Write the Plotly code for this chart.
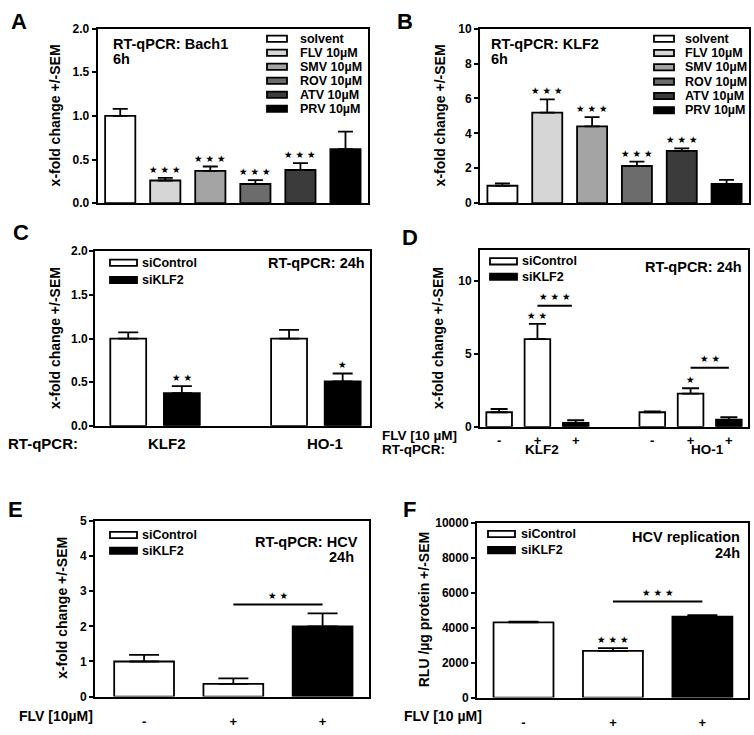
import plotly.graph_objects as go

W, H = 754, 735

# ---------------- data ----------------
A_labels = ["solvent", "FLV 10µM", "SMV 10µM", "ROV 10µM", "ATV 10µM", "PRV 10µM"]
A_values = [1.00, 0.26, 0.37, 0.22, 0.38, 0.62]
A_errors = [0.08, 0.03, 0.05, 0.045, 0.08, 0.20]
A_stars = ["", "★★★", "★★★", "★★★", "★★★", ""]

B_labels = ["solvent", "FLV 10µM", "SMV 10µM", "ROV 10µM", "ATV 10µM", "PRV 10µM"]
B_values = [1.00, 5.19, 4.40, 2.13, 3.00, 1.10]
B_errors = [0.13, 0.75, 0.53, 0.25, 0.14, 0.23]
B_stars = ["", "★★★", "★★★", "★★★", "★★★", ""]

treat_colors = ["#ffffff", "#d6d6d6", "#a4a4a4", "#6c6c6c", "#3b3b3b", "#000000"]

si_labels = ["siControl", "siKLF2"]
si_colors = {"siControl": "#ffffff", "siKLF2": "#000000"}

C_genes = ["KLF2", "HO-1"]
C_gene_of_bar = [0, 0, 1, 1]
C_slot = [0, 1, 0, 1]
C_groups = ["siControl", "siKLF2", "siControl", "siKLF2"]
C_values = [1.00, 0.375, 1.00, 0.51]
C_errors = [0.07, 0.08, 0.10, 0.09]
C_stars = ["", "★★", "", "★"]
C_yticks = [0, 0.5, 1.0, 1.5, 2.0]

D_genes = ["KLF2", "HO-1"]
D_gene_of_bar = [0, 0, 0, 1, 1, 1]
D_slot = [0, 1, 2, 0, 1, 2]
D_groups = ["siControl", "siControl", "siKLF2", "siControl", "siControl", "siKLF2"]
D_flv = ["-", "+", "+", "-", "+", "+"]
D_values = [1.00, 6.00, 0.27, 1.00, 2.28, 0.49]
D_errors = [0.22, 1.05, 0.18, 0.05, 0.36, 0.18]
D_stars = ["", "★★", "", "", "★", ""]
D_brackets = [(1, 2, 8.28, "★★★"), (4, 5, 4.05, "★★")]

E_groups = ["siControl", "siControl", "siKLF2"]
E_flv = ["-", "+", "+"]
E_values = [1.00, 0.36, 2.00]
E_errors = [0.19, 0.16, 0.37]
E_stars = ["", "", ""]
E_brackets = [(1, 2, 2.62, "★★")]

F_groups = ["siControl", "siControl", "siKLF2"]
F_flv = ["-", "+", "+"]
F_values = [4310, 2680, 4640]
F_errors = [40, 150, 75]
F_stars = ["", "★★★", ""]
F_brackets = [(1, 2, 5500, "★★★")]

# ---------------- helpers ----------------
FONT = "Liberation Sans, Arial, Helvetica, sans-serif"
STARFONT = "DejaVu Sans"
STARSIZE = 9.5

fig = go.Figure()
layout = {}
annotations = []
shapes = []


def px(x, y):
    return x / W, 1 - y / H


def sfx(i):
    return "" if i == 1 else str(i)


def add_axes(i, xd, yd, xr, yr, ytickvals, yfmt, xtickvals=None, xticktext=None, standoff=2,
             xsize=13, ylabels=True):
    s = sfx(i)
    xa = dict(domain=[xd[0] / W, xd[1] / W], range=xr, anchor="y" + s,
              showline=True, mirror=True, linecolor="black", linewidth=2,
              showgrid=False, zeroline=False, ticks="", fixedrange=True)
    if xtickvals is not None:
        xa.update(tickmode="array", tickvals=xtickvals, ticktext=xticktext, showticklabels=True,
                  tickfont=dict(family=FONT, size=xsize, color="black", weight="bold"),
                  ticklabelstandoff=standoff)
    else:
        xa.update(showticklabels=False)
    ya = dict(domain=[1 - yd[1] / H, 1 - yd[0] / H], range=yr, anchor="x" + s,
              showline=True, mirror=True, linecolor="black", linewidth=2,
              showgrid=False, zeroline=False, ticks="outside", ticklen=4, tickwidth=2,
              tickcolor="black", tickmode="array", tickvals=ytickvals,
              ticktext=[format(v, yfmt) for v in ytickvals], showticklabels=ylabels,
              tickfont=dict(family=FONT, size=12, color="black", weight="bold"), fixedrange=True)
    layout["xaxis" + s] = xa
    layout["yaxis" + s] = ya
    if not ylabels:
        # tick labels written next to the axis, at the axis' own tick values
        for v in ytickvals:
            annotations.append(dict(x=(xd[0] - 6) / W, y=v, xref="paper", yref="y" + s,
                                    text="<b>" + format(v, yfmt) + "</b>", showarrow=False,
                                    xanchor="right", yanchor="middle", borderpad=0,
                                    font=dict(family=FONT, size=12, color="black")))


def spaced(st):
    return " ".join(list(st))


def add_bars(i, xs, vals, errs, colors, cap, stars):
    s = sfx(i)
    fig.add_trace(go.Bar(
        x=xs, y=vals, width=0.67, xaxis="x" + s, yaxis="y" + s, showlegend=False,
        marker=dict(color=colors, line=dict(color="black", width=1.8)),
        error_y=dict(type="data", array=errs, arrayminus=[0] * len(errs), symmetric=False,
                     color="black", thickness=1.8, width=cap),
    ))
    for x, v, e, st in zip(xs, vals, errs, stars):
        if st:
            annotations.append(dict(x=x, y=v + e, xref="x" + s, yref="y" + s, text=spaced(st),
                                    showarrow=False, yanchor="bottom", yshift=1,
                                    font=dict(family=STARFONT, size=STARSIZE, color="black")))


def add_brackets(i, xs, brackets, x2trim=0.0):
    s = sfx(i)
    for a, b, y, st in brackets:
        shapes.append(dict(type="line", xref="x" + s, yref="y" + s, x0=xs[a], x1=xs[b] - x2trim,
                           y0=y, y1=y, line=dict(color="black", width=2)))
        annotations.append(dict(x=(xs[a] + xs[b] - x2trim) / 2, y=y, xref="x" + s, yref="y" + s,
                                text=spaced(st), showarrow=False, yanchor="bottom", yshift=2,
                                font=dict(family=STARFONT, size=STARSIZE, color="black")))


def text(x, y, t, size=13, xanchor="left", angle=0):
    xx, yy = px(x, y)
    annotations.append(dict(x=xx, y=yy, xref="paper", yref="paper", text="<b>" + t + "</b>",
                            showarrow=False, xanchor=xanchor, yanchor="middle", textangle=angle,
                            font=dict(family=FONT, size=size, color="black")))


def legend(x0, rows_y, labels, colors, sw_w, tx, size=12.5):
    for y, lab, col in zip(rows_y, labels, colors):
        a = px(x0, y - 3.2)
        b = px(x0 + sw_w, y + 3.2)
        shapes.append(dict(type="rect", xref="paper", yref="paper", x0=a[0], x1=b[0], y0=b[1], y1=a[1],
                           fillcolor=col, line=dict(color="black", width=1.8)))
        text(tx, y, lab, size=size)


# ---------------- Panel A ----------------
xA = list(range(len(A_values)))
add_axes(1, (97.7, 368), (22, 200), [-0.5, 5.5], [0, 2], [0, 0.5, 1.0, 1.5, 2.0], ".1f")
add_bars(1, xA, A_values, A_errors, treat_colors, 7.5, A_stars)
legend(267, [32.3 + 14.3 * k for k in range(6)], A_labels, treat_colors, 20, 298)
text(111, 38, "RT-qPCR: Bach1", 14.5)
text(111, 53, "6h", 14.5)
text(54.5, 111, "x-fold change +/-SEM", 14, "center", -90)
text(9, 15, "A", 22)

# ---------------- Panel B ----------------
xB = list(range(len(B_values)))
add_axes(2, (480, 749), (22, 200), [-0.5, 5.5], [0, 10], [0, 2, 4, 6, 8, 10], "d")
add_bars(2, xB, B_values, B_errors, treat_colors, 7.5, B_stars)
legend(654, [32.3 + 14.6 * k for k in range(6)], B_labels, treat_colors, 20, 683)
text(489, 38, "RT-qPCR: KLF2", 14.5)
text(489, 53, "6h", 14.5)
text(439.5, 111, "x-fold change +/-SEM", 14, "center", -90)
text(395, 15, "B", 22)

# ---------------- Panel C ----------------
xC = [g * 3 + j for g, j in zip(C_gene_of_bar, C_slot)]
add_axes(3, (95, 370), (249, 427), [-0.62, 4.51], [0, 2], C_yticks, ".1f", ylabels=False)
add_bars(3, xC, C_values, C_errors, [si_colors[g] for g in C_groups], 10, C_stars)
legend(110, [260.7, 278.3], si_labels, [si_colors[g] for g in si_labels], 27, 140)
text(367, 260.7, "RT-qPCR: 24h", 14.5, "right")
text(54.5, 338, "x-fold change +/-SEM", 14, "center", -90)
text(6, 445, "RT-qPCR:", 15)
text(166.7, 445, C_genes[0], 15, "center")
text(324.7, 445, C_genes[1], 15, "center")
text(11, 230, "C", 22)

# ---------------- Panel D ----------------
xD = [g * 4 + j for g, j in zip(D_gene_of_bar, D_slot)]
add_axes(4, (480, 748), (248, 428), [-0.5, 6.5], [0, 12.08], [0, 5, 10], "d",
         xtickvals=xD, xticktext=D_flv, standoff=1, xsize=13)
add_bars(4, xD, D_values, D_errors, [si_colors[g] for g in D_groups], 8.5, D_stars)
add_brackets(4, xD, D_brackets[:1], x2trim=0.1)
add_brackets(4, xD, D_brackets[1:])
legend(490, [259.3, 275], si_labels, [si_colors[g] for g in si_labels], 27, 520)
text(744, 265, "RT-qPCR: 24h", 14.5, "right")
text(437.5, 338, "x-fold change +/-SEM", 14, "center", -90)
text(380, 437, "FLV [10 µM]", 13.5)
text(380, 451, "RT-qPCR:", 13.5)
text(542, 451, D_genes[0], 13.5, "center")
text(707, 451, D_genes[1], 13.5, "center")
text(400, 235, "D", 22)

# ---------------- Panel E ----------------
xE = list(range(len(E_values)))
add_axes(5, (95, 369), (524, 703), [-0.55, 2.52], [0, 5], [0, 1, 2, 3, 4, 5], "d",
         xtickvals=xE, xticktext=E_flv, standoff=12)
add_bars(5, xE, E_values, E_errors, [si_colors[g] for g in E_groups], 15, E_stars)
add_brackets(5, xE, E_brackets)
legend(110, [538.3, 554.3], si_labels, [si_colors[g] for g in si_labels], 27, 140)
text(360, 545, "RT-qPCR: HCV", 14.5, "right")
text(356, 561, "24h", 14.5, "right")
text(62.5, 613, "x-fold change +/-SEM", 14, "center", -90)
text(17, 723, "FLV [10µM]", 14)
text(6, 512, "E", 22)

# ---------------- Panel F ----------------
xF = list(range(len(F_values)))
add_axes(6, (477, 748), (526, 704), [-0.52, 2.51], [0, 10000],
         [0, 2000, 4000, 6000, 8000, 10000], "d",
         xtickvals=xF, xticktext=F_flv, standoff=12)
add_bars(6, xF, F_values, F_errors, [si_colors[g] for g in F_groups], 15, F_stars)
add_brackets(6, xF, F_brackets)
legend(488, [537.3, 553.7], si_labels, [si_colors[g] for g in si_labels], 27, 519)
text(742, 540, "HCV replication", 14.5, "right")
text(742, 557, "24h", 14.5, "right")
text(424, 615, "RLU /µg protein +/-SEM", 14, "center", -90)
text(402, 723, "FLV [10 µM]", 14)
text(401, 512, "F", 22)

fig.update_layout(
    width=W, height=H, margin=dict(l=0, r=0, t=0, b=0),
    paper_bgcolor="white", plot_bgcolor="white", showlegend=False,
    annotations=annotations, shapes=shapes, **layout,
)

fig.write_html(
    "out.html",
    config={"displayModeBar": False},
    post_script="document.body.style.margin='0px';",
)
